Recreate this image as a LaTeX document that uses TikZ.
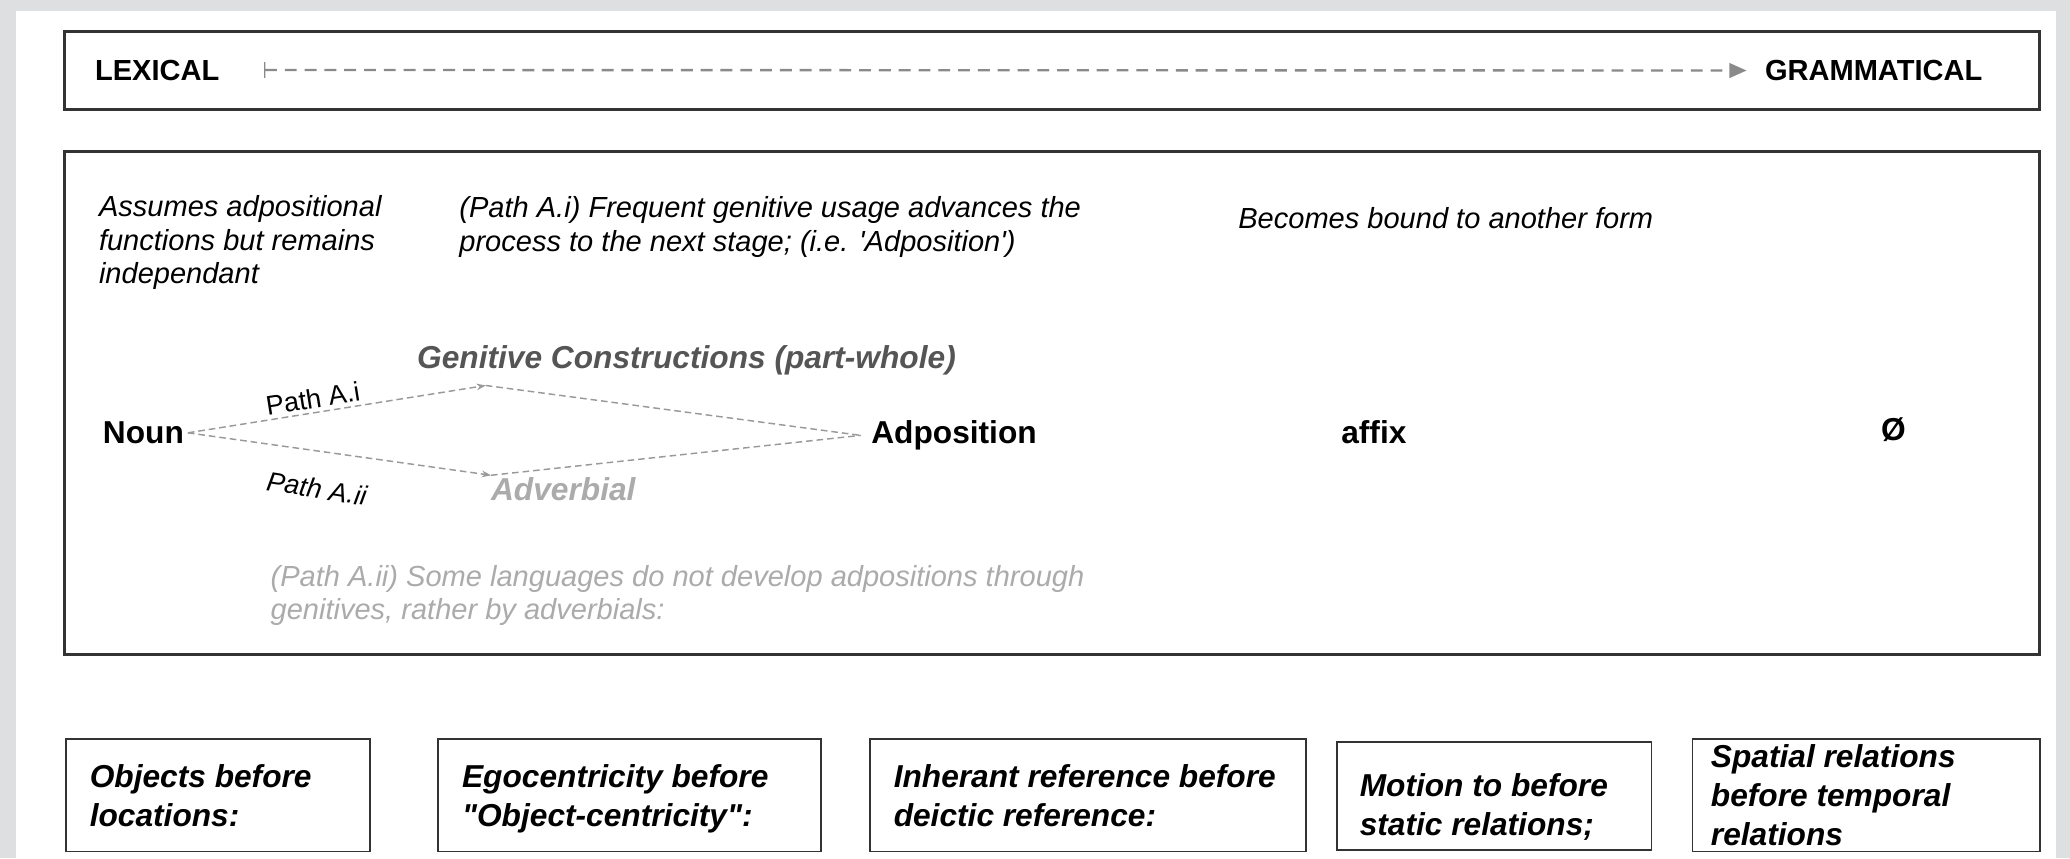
\documentclass[tikz,border=0pt]{standalone}
\usepackage{fontspec}
\setmainfont{Liberation Sans}
\usetikzlibrary{arrows.meta}
\definecolor{bggray}{HTML}{DEDFE1}
\definecolor{boxline}{HTML}{333333}
\definecolor{dashgray}{HTML}{8A8A8A}
\definecolor{pathgray}{HTML}{999999}
\definecolor{genigray}{HTML}{555555}
\definecolor{lightgray}{HTML}{ABABAB}
\newcommand\dgIt{\fontsize{22}{25.5}\selectfont\itshape}
\newcommand\dgCap{\fontsize{22}{25}\selectfont\bfseries}
\newcommand\dgBf{\fontsize{24}{28}\selectfont\bfseries}
\newcommand\dgBI{\fontsize{24}{29.5}\selectfont\bfseries\itshape}
\newcommand\dgLab{\fontsize{20.5}{23}\selectfont}
\begin{document}
\begin{tikzpicture}[x=1pt,y=-1pt,
  every node/.style={inner sep=0pt,outer sep=0pt},
  bigbox/.style={draw=boxline,line width=2.2pt},
  smallbox/.style={draw=boxline,line width=1.3pt},
  txt/.style={anchor=north west,align=left},
  axisline/.style={draw=dashgray,line width=1.8pt,dash pattern=on 9pt off 6pt},
  pathline/.style={draw=pathgray,line width=1.1pt,dash pattern=on 5pt off 3pt}]
\fill[bggray] (0,0) rectangle (1568,650);
\useasboundingbox (0,0) rectangle (1568,650);
\fill[white] (12,8) rectangle (1557,650);

% top bar
\draw[bigbox] (49,24) rectangle (1545,83);
\node[anchor=base west,font=\dgCap] (lex) at (72,61) {LEXICAL};
\node[anchor=base west,font=\dgCap] (gram) at (1337,61) {GRAMMATICAL};
\coordinate (axs) at (200,53);
\draw[axisline,{Bar[width=12pt,line width=1pt]}-{Triangle[length=13pt,width=11pt]}] (axs) -- ([xshift=-14pt]gram.west);

% middle box
\draw[bigbox] (49,115) rectangle (1545,496);
\node[txt,font=\dgIt] (assume) at (75,148) {Assumes adpositional\\functions but remains\\independant};
\node[txt,font=\dgIt] (pai) at (348,149) {(Path A.i) Frequent genitive usage advances the\\process to the next stage; (i.e. \textquotesingle Adposition\textquotesingle)};
\node[anchor=base west,font=\dgIt] (bound) at (938,173) {Becomes bound to another form};
\node[anchor=base west,text=genigray,font=\dgBI] (geni) at (316,279) {Genitive Constructions (part-whole)};
\node[anchor=base west,font=\dgBf] (noun) at (78,336) {Noun};
\node[anchor=base west,font=\dgBf] (adp) at (660,336) {Adposition};
\node[anchor=base west,font=\dgBf] (affix) at (1016,336) {affix};
\node[anchor=base west,font=\dgBf] (zero) at (1425,334) {Ø};
\node[anchor=base west,text=lightgray,font=\dgBI] (adv) at (372,379) {Adverbial};
\node[txt,text=lightgray,font=\dgIt] (paii) at (205,428) {(Path A.ii) Some languages do not develop adpositions through\\genitives, rather by adverbials:};

\coordinate (gv) at (368,292);
\coordinate (av) at (372,360);
\draw[pathline,-{Stealth[length=7pt,width=5pt]}] ([xshift=3pt]noun.east) -- (gv);
\draw[pathline] (gv) -- ([xshift=-8pt]adp.west);
\draw[pathline,-{Stealth[length=7pt,width=5pt]}] ([xshift=3pt]noun.east) -- (av);
\draw[pathline] (av) -- ([xshift=-8pt]adp.west);
\node[rotate=9,font=\dgLab] (lai) at (237,302) {Path A.i};
\node[rotate=-9,font=\dgLab\itshape] (laii) at (240,370) {Path A.ii};

% bottom boxes
\draw[smallbox] (50,560) rectangle (280,645);
\node[txt,font=\dgBI] (b1) at (68,579) {Objects before\\locations:};
\draw[smallbox] (332,560) rectangle (622,645);
\node[txt,font=\dgBI] (b2) at (350,579) {Egocentricity before\\\textquotedbl Object-centricity\textquotedbl:};
\draw[smallbox] (659,560) rectangle (989,645);
\node[txt,font=\dgBI] (b3) at (677,579) {Inherant reference before\\deictic reference:};
\draw[smallbox] (1013,562) rectangle (1251,644);
\node[txt,font=\dgBI] (b4) at (1030,586) {Motion to before\\static relations;};
\draw[smallbox] (1282,560) rectangle (1545,645);
\node[txt,font=\dgBI] (b5) at (1296,564) {Spatial relations\\before temporal\\relations};
\end{tikzpicture}
\end{document}
